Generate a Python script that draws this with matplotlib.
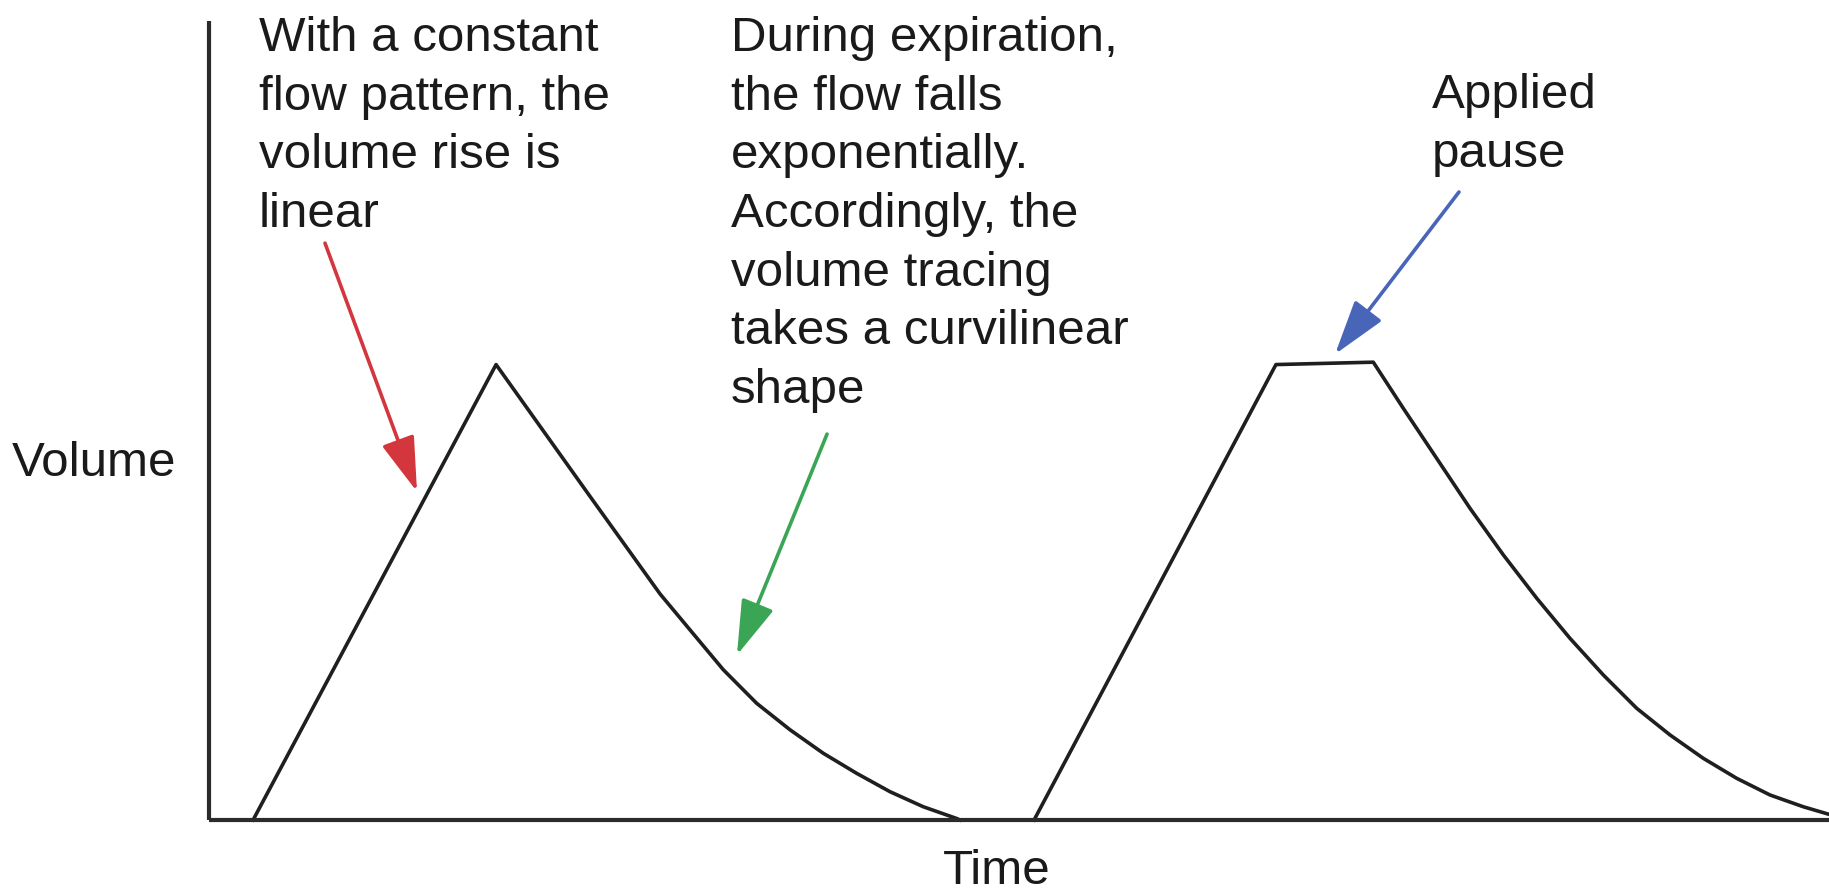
import matplotlib
matplotlib.use("Agg")
import matplotlib.pyplot as plt
from matplotlib.patches import FancyArrowPatch

plt.rcParams['font.family'] = ['Liberation Sans', 'DejaVu Sans']

# volume tracing (time in s, volume in L)
breath1_time = [0.272, 1.772, 2.352, 2.784, 2.969, 3.175, 3.381, 3.586, 3.792,
                3.998, 4.204, 4.409, 4.615, 4.636]
breath1_volume = [0.0, 0.570, 0.405, 0.283, 0.238, 0.188, 0.146, 0.113, 0.0835,
                  0.0584, 0.0354, 0.0166, 0.0019, 0.0]
breath2_time = [5.093, 6.586, 7.187, 7.372, 7.578, 7.784, 7.990, 8.196, 8.401,
                8.607, 8.813, 9.019, 9.224, 9.430, 9.636, 9.841, 10.0]
breath2_volume = [0.0, 0.570, 0.573, 0.5153, 0.4527, 0.3901, 0.3317, 0.2775, 0.2274,
                  0.1815, 0.1398, 0.1064, 0.0772, 0.0522, 0.0313, 0.0166, 0.0071]

note_linear = "With a constant\nflow pattern, the\nvolume rise is\nlinear"
note_expiration = ("During expiration,\nthe flow falls\nexponentially.\nAccordingly, the\n"
                   "volume tracing\ntakes a curvilinear\nshape")
note_pause = "Applied\npause"
x_label = "Time"
y_label = "Volume"

# arrows: (tail, tip) in data coords, colour
arrows = [
    ((0.716, 0.722), (1.284, 0.411), "#d3363d"),
    ((3.815, 0.483), (3.259, 0.2065), "#3aa655"),
    ((7.716, 0.786), (6.951, 0.583), "#4865b8"),
]

W, H = 1829, 894
fig = plt.figure(figsize=(W / 100, H / 100), dpi=100)
ax = fig.add_axes([209 / W, 74 / H, 1620 / W, 799 / H])
ax.set_xlim(0, 10)
ax.set_ylim(0, 1)
ax.set_xticks([])
ax.set_yticks([])
for side in ["top", "right"]:
    ax.spines[side].set_visible(False)
for side in ["left", "bottom"]:
    ax.spines[side].set_linewidth(3)
    ax.spines[side].set_color("#2b2b2b")
    ax.spines[side].set_capstyle("butt")

ax.plot(breath1_time, breath1_volume, color="#1f1f1f", lw=2.6, clip_on=False,
        solid_joinstyle="round")
ax.plot(breath2_time, breath2_volume, color="#1f1f1f", lw=2.6, clip_on=False,
        solid_joinstyle="round")

for tail, tip, col in arrows:
    arr = FancyArrowPatch(tail, tip, arrowstyle="-|>,head_length=34,head_width=10.5",
                          mutation_scale=1, color=col, lw=2.6, shrinkA=0, shrinkB=0,
                          clip_on=False)
    ax.add_patch(arr)

txt = dict(fontsize=35.5, color="#1a1a1a", linespacing=1.39)
fig.text(259 / W, 1 - 16 / H, note_linear, ha="left", va="top", **txt)
fig.text(731 / W, 1 - 16 / H, note_expiration, ha="left", va="top", **txt)
fig.text(1432 / W, 1 - 73 / H, note_pause, ha="left", va="top", **txt)
fig.text(12 / W, 1 - 476 / H, y_label, ha="left", va="baseline", **txt)
fig.text(997 / W, 1 - 884 / H, x_label, ha="center", va="baseline", **txt)

fig.savefig("out.png", dpi=100, facecolor="white")
